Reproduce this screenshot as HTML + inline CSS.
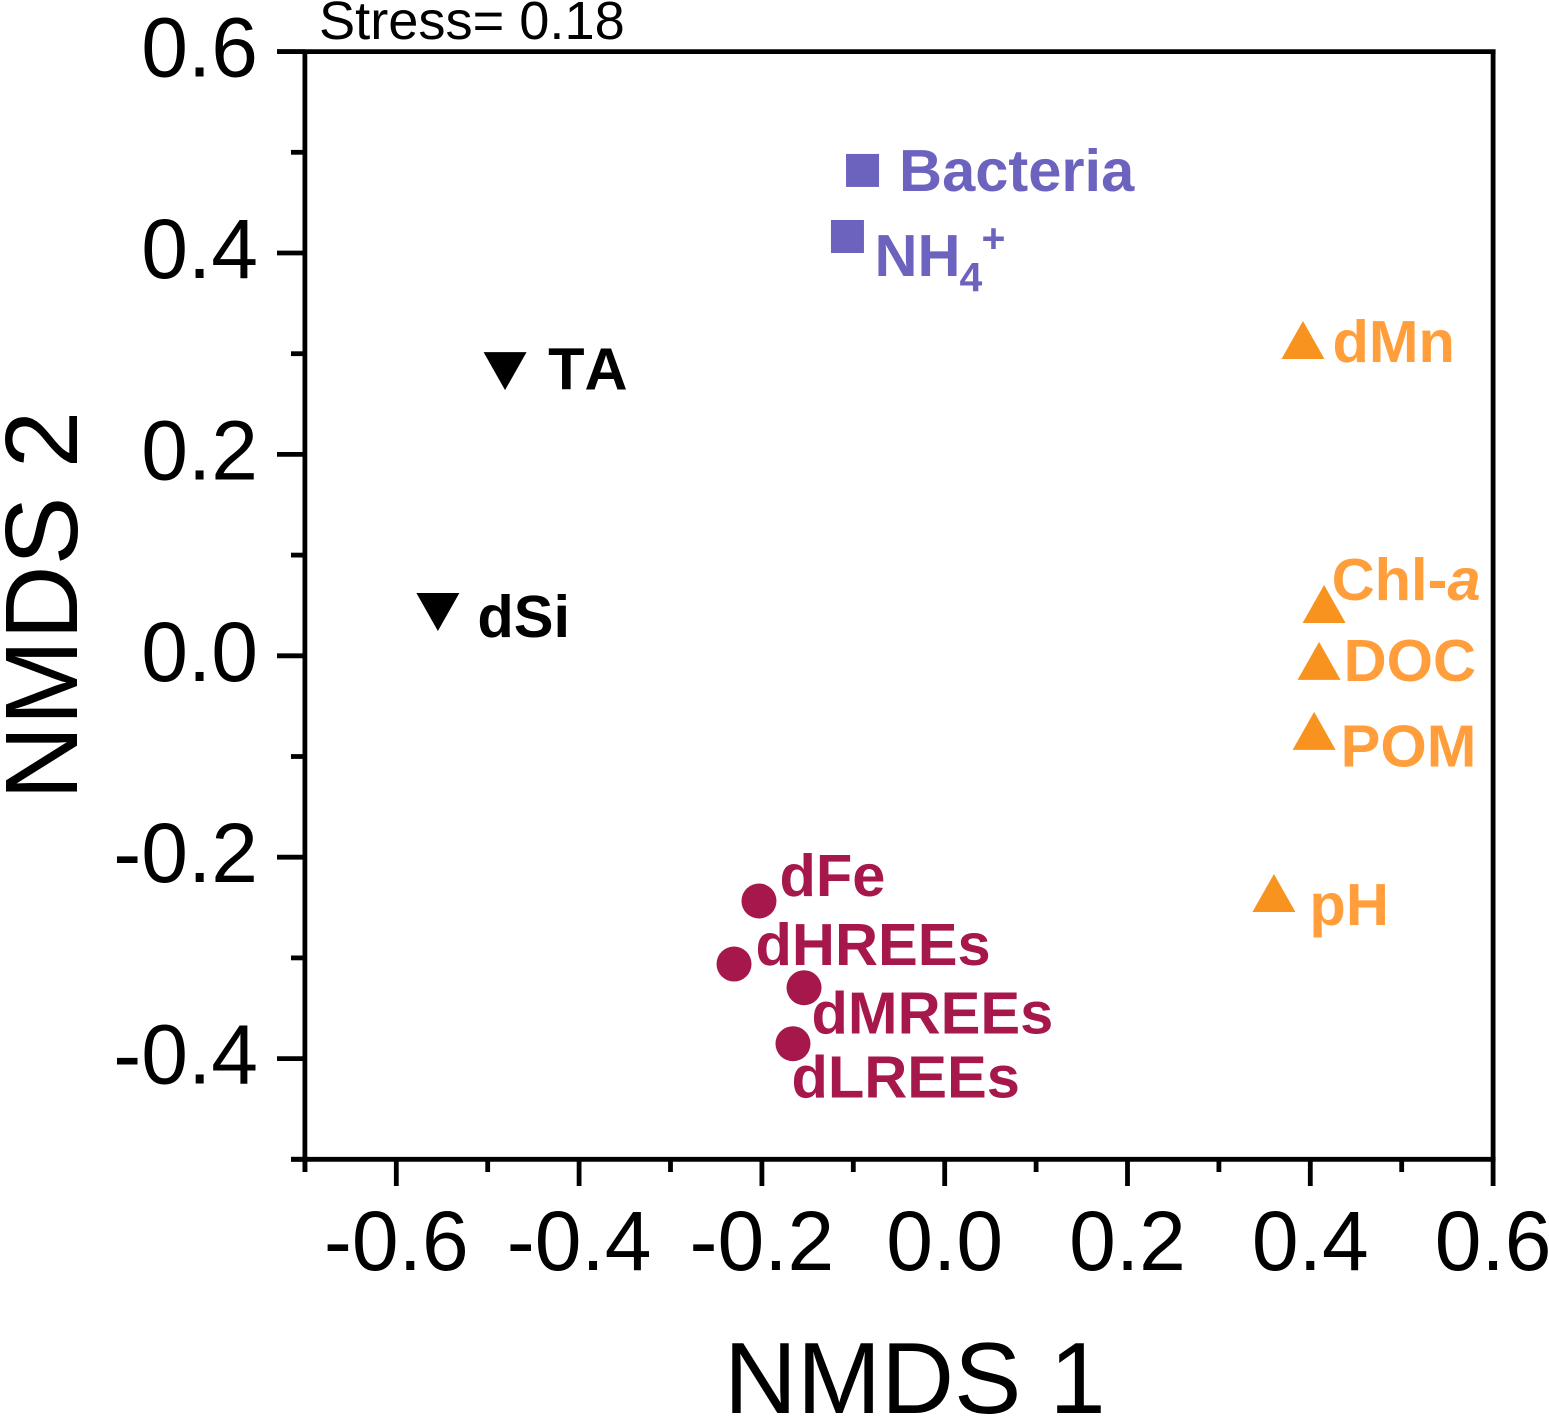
<!DOCTYPE html>
<html lang="en">
<head>
<meta charset="utf-8">
<title>NMDS ordination</title>
<style>
  html, body { margin: 0; padding: 0; background: #fff; }
  svg { display: block; font-family: "Liberation Sans", Arial, sans-serif; font-kerning: none; }
</style>
</head>
<body>
<svg id="chart" xmlns="http://www.w3.org/2000/svg" width="1549" height="1418" viewBox="0 0 1549 1418">
  <rect x="0" y="0" width="1549" height="1418" fill="#ffffff"/>
  <text x="319" y="39" font-size="54.2" fill="#000">Stress= 0.18</text>
  <text x="724" y="1413" font-size="101" fill="#000">NMDS 1</text>
  <text transform="translate(77 800) rotate(-90)" font-size="103" fill="#000">NMDS 2</text>
  <g id="axes"></g>
  <g id="marks"></g>
  <g id="labels"></g>
</svg>
<script>
const xTickLabels = ["-0.6", "-0.4", "-0.2", "0.0", "0.2", "0.4", "0.6"];
const yTickLabels = ["0.6", "0.4", "0.2", "0.0", "-0.2", "-0.4"];
const xMinorTicks = [-0.7, -0.5, -0.3, -0.1, 0.1, 0.3, 0.5];
const yMinorTicks = [0.5, 0.3, 0.1, -0.1, -0.3, -0.5];

const pointNames = ["Bacteria", "NH4", "TA", "dSi", "dMn", "Chl-a", "DOC", "POM", "pH", "dFe", "dHREEs", "dMREEs", "dLREEs"];
const nmds1Values = [-0.0899, -0.1064, -0.481, -0.5545, 0.392, 0.4151, 0.4096, 0.4042, 0.3602, -0.2032, -0.2305, -0.1539, -0.166];
const nmds2Values = [0.482, 0.4164, 0.2827, 0.0435, 0.3136, 0.0514, -0.0051, -0.0746, -0.2356, -0.2435, -0.3061, -0.3296, -0.3852];
const pointGroups = ["biotic", "biotic", "carbonate", "carbonate", "surface", "surface", "surface", "surface", "surface", "metal", "metal", "metal", "metal"];

const groupStyle = {
  biotic: { shape: "square", marker: "#6c63be", text: "#6c63be" },
  carbonate: { shape: "down", marker: "#000000", text: "#000000" },
  surface: { shape: "up", marker: "#f7931e", text: "#ff9e3a" },
  metal: { shape: "circle", marker: "#a6174c", text: "#a6174c" }
};
const labelOffset = {
  "Bacteria": [36.5, 20.5], "NH4": [27, 39.5], "TA": [43, 18.5], "dSi": [39.5, 25],
  "dMn": [29.5, 22], "Chl-a": [7.5, -4], "DOC": [24.5, 20], "POM": [26.5, 35.5], "pH": [35.5, 32],
  "dFe": [20.5, -5], "dHREEs": [21.5, 1], "dMREEs": [7.5, 46], "dLREEs": [-1.5, 54]
};

const NS = "http://www.w3.org/2000/svg";
const xScale = v => 944.7 + v * 914;
const yScale = v => 655.8 - v * 1007;
const axes = document.getElementById("axes");
const marks = document.getElementById("marks");
const labels = document.getElementById("labels");

function makeLine(x1, y1, x2, y2, w) {
  const l = document.createElementNS(NS, "line");
  l.setAttribute("x1", x1);
  l.setAttribute("y1", y1);
  l.setAttribute("x2", x2);
  l.setAttribute("y2", y2);
  l.setAttribute("stroke", "#000");
  l.setAttribute("stroke-width", w);
  axes.appendChild(l);
  return l;
}
function makeText(parent, x, y, size, str, fill) {
  const t = document.createElementNS(NS, "text");
  t.setAttribute("x", x);
  t.setAttribute("y", y);
  t.setAttribute("font-size", size);
  t.setAttribute("fill", fill);
  t.textContent = str;
  parent.appendChild(t);
  return t;
}

const frameLeft = xScale(-0.7), frameRight = xScale(0.6), frameTop = yScale(0.6), frameBottom = yScale(-0.5);
const topLine = makeLine(277, frameTop, frameRight + 2.5, frameTop, 4.8);


const bottomLine = makeLine(291, frameBottom, frameRight + 2.5, frameBottom, 4.8);


const leftLine = makeLine(frameLeft, frameTop, frameLeft, 1172, 4.8);


const rightLine = makeLine(frameRight, frameTop, frameRight, frameBottom, 4.8);



xTickLabels.forEach(lab => {
  const v = parseFloat(lab);
  const tick = makeLine(xScale(v), frameBottom, xScale(v), 1186, 4.8);
  
  
  const t = makeText(axes, xScale(v), 1270, 84, lab, "#000");
  t.setAttribute("text-anchor", "middle");
  
  
});
xMinorTicks.forEach(v => {
  const tick = makeLine(xScale(v), frameBottom, xScale(v), 1172, 4.8);
  
  
});
yTickLabels.forEach(lab => {
  const v = parseFloat(lab);
  const tick = makeLine(277, yScale(v), frameLeft, yScale(v), 4.8);
  
  
  const t = makeText(axes, 258, yScale(v) + 25, 84, lab, "#000");
  t.setAttribute("text-anchor", "end");
  
  
});
yMinorTicks.forEach(v => {
  const tick = makeLine(291, yScale(v), frameLeft, yScale(v), 4.8);
  
  
});

function drawMarker(shape, cx, cy, color) {
  let el;
  if (shape === "square") {
    el = document.createElementNS(NS, "rect");
    el.setAttribute("x", cx - 16.5);
    el.setAttribute("y", cy - 16.5);
    el.setAttribute("width", 33);
    el.setAttribute("height", 33);
  } else if (shape === "circle") {
    el = document.createElementNS(NS, "circle");
    el.setAttribute("cx", cx);
    el.setAttribute("cy", cy);
    el.setAttribute("r", 17.5);
  } else {
    const s = shape === "up" ? 1 : -1;
    el = document.createElementNS(NS, "polygon");
    el.setAttribute("points", (cx - 21.5) + "," + (cy + s * 19) + " " + (cx + 21.5) + "," + (cy + s * 19) + " " + cx + "," + (cy - s * 19));
  }
  el.setAttribute("fill", color);
  marks.appendChild(el);
  return el;
}

pointNames.forEach((name, i) => {
  const st = groupStyle[pointGroups[i]];
  const cx = xScale(nmds1Values[i]), cy = yScale(nmds2Values[i]);
  const m = drawMarker(st.shape, cx, cy, st.marker);
  
  

  const lx = cx + labelOffset[name][0], ly = cy + labelOffset[name][1];
  const t = makeText(labels, lx, ly, 59.6, "", st.text);
  t.setAttribute("font-weight", "bold");
  
  
  if (name === "NH4") {
    t.textContent = "NH";
    const sub = makeText(labels, lx + 85, ly + 15, 41, "4", st.text);
    sub.setAttribute("font-weight", "bold");
    
    
    const sup = makeText(labels, lx + 107, ly - 24, 41, "+", st.text);
    sup.setAttribute("font-weight", "bold");
    
    
  } else if (name === "Chl-a") {
    t.textContent = "Chl-";
    const it = document.createElementNS(NS, "tspan");
    it.setAttribute("font-style", "italic");
    it.textContent = "a";
    t.appendChild(it);
  } else {
    t.textContent = name;
  }
});
</script>
</body>
</html>
